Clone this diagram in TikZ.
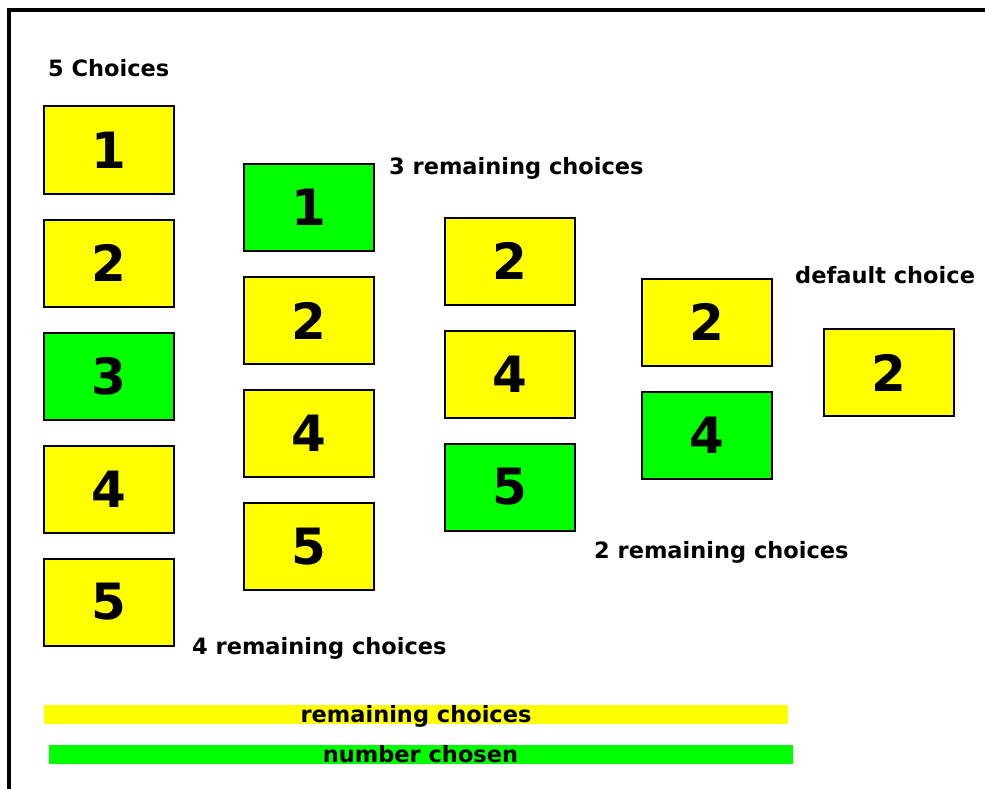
\documentclass[tikz,border=0pt]{standalone}
\usepackage{fontspec}
\setmainfont{DejaVu Sans}
\usepackage{xcolor}
\usetikzlibrary{positioning}
\definecolor{boxyellow}{RGB}{255,255,0}
\definecolor{boxgreen}{RGB}{0,255,0}
\tikzset{
  remain/.style={
    rectangle,
    draw=black,
    line width=2pt,
    fill=boxyellow,
    minimum width=130pt,
    minimum height=87pt,
    inner sep=0pt,
    font=\fontsize{50}{50}\selectfont\bfseries
  },
  chosen/.style={
    remain,
    fill=boxgreen
  },
  caption/.style={
    anchor=base west,
    inner sep=0pt,
    font=\fontsize{22.5}{22.5}\selectfont\bfseries
  },
  legendbar/.style={
    rectangle,
    inner sep=0pt,
    minimum width=744pt,
    minimum height=19pt,
    text depth=1pt,
    font=\fontsize{22.5}{22.5}\selectfont\bfseries
  }
}

\begin{document}
\begin{tikzpicture}[x=1pt,y=-1pt,node distance=24pt]
  \useasboundingbox (0,0) rectangle (985,789);
  \fill[white] (0,0) rectangle (985,789);
  \draw[line width=4pt] (9,789) -- (9,10) -- (985,10);

  % five choices
  \node[remain] (a1) at (109,150) {1};
  \node[remain, below=of a1] (a2) {2};
  \node[chosen, below=of a2] (a3) {3};
  \node[remain, below=of a3] (a4) {4};
  \node[remain, below=of a4] (a5) {5};

  % four remaining
  \node[chosen] (b1) at (309,207.5) {1};
  \node[remain, below=of b1] (b2) {2};
  \node[remain, below=of b2] (b4) {4};
  \node[remain, below=of b4] (b5) {5};

  % three remaining
  \node[remain] (c2) at (510,261) {2};
  \node[remain, below=of c2] (c4) {4};
  \node[chosen, below=of c4] (c5) {5};

  % two remaining
  \node[remain] (d2) at (706.5,322) {2};
  \node[chosen, below=of d2] (d4) {4};

  % default
  \node[remain] (e2) at (888.5,372.5) {2};

  \node[caption] (lblFive) at (48,77) {5 Choices};
  \node[caption] (lblFour) at (192,654) {4 remaining choices};
  \node[caption] (lblThree) at (389,175) {3 remaining choices};
  \node[caption] (lblTwo) at (594,558) {2 remaining choices};
  \node[caption] (lblDefault) at (795,283) {default choice};

  % legend
  \node[legendbar, fill=boxyellow] (keyRemain) at (416,714.5) {remaining choices};
  \node[legendbar, fill=boxgreen] (keyChosen) at (420.5,754) {number chosen};
\end{tikzpicture}
\end{document}
